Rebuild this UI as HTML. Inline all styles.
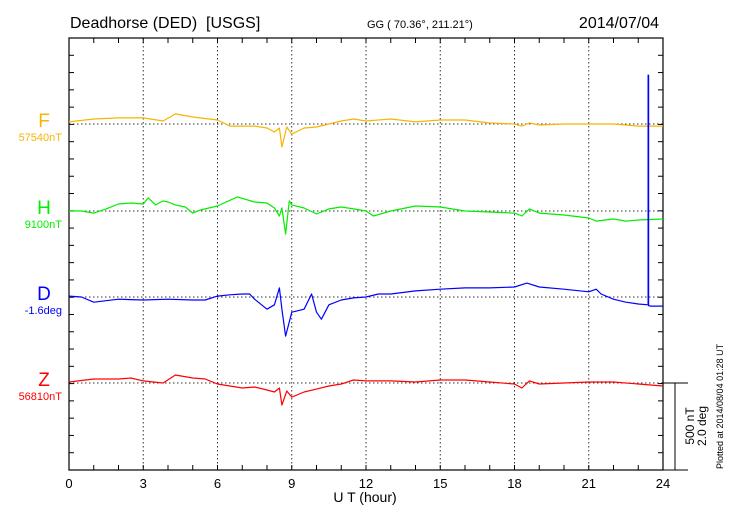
<!DOCTYPE html>
<html><head><meta charset="utf-8"><style>
html,body{margin:0;padding:0;background:#fff;}
svg{display:block;font-family:"Liberation Sans",sans-serif;}
</style></head><body>
<svg id="chart" width="730" height="520" viewBox="0 0 730 520" xmlns="http://www.w3.org/2000/svg">
<text x="70" y="28" font-size="16" style="white-space:pre" xml:space="preserve">Deadhorse (DED)  [USGS]</text>
<text x="367" y="28" font-size="11">GG ( 70.36°, 211.21°)</text>
<text x="659" y="28" font-size="16" text-anchor="end">2014/07/04</text>
<text x="365" y="502" font-size="14" text-anchor="middle">U T (hour)</text>
<text transform="translate(694,426) rotate(-90)" font-size="12" text-anchor="middle">500 nT</text>
<text transform="translate(706,426) rotate(-90)" font-size="12" text-anchor="middle">2.0 deg</text>
<text transform="translate(723,469) rotate(-90)" font-size="9">Plotted at 2014/08/04 01:28 UT</text>
<g id="g"></g>
</svg>
<script>
const xTicks=[0,3,6,9,12,15,18,21,24];
const seriesNames=['F','H','D','Z'];
const seriesColors=['#f8b400','#00ee00','#0000ff','#ff0000'];
const baseLabels=['57540nT','9100nT','-1.6deg','56810nT'];
const fT=[0,1,2,3,3.8,4.3,5,6,6.5,7.5,8,8.3,8.5,8.6,8.8,9,9.5,10,10.5,11,11.5,12,13,14,15,16,17,18,18.3,18.6,19,20,21,22,23,24];
const fV=[12,29,35,35,17,58,40,23,-12,-12,-23,-46,-23,-132,-17,-58,-23,-17,0,17,29,17,29,12,23,23,6,0,-12,6,-6,0,0,0,-12,-12];
const hT=[0,0.5,1,1.5,2,2.5,3,3.2,3.5,3.8,4,4.3,4.7,5,5.3,6,6.8,7.5,8,8.3,8.5,8.6,8.75,8.9,9,9.5,10,10.5,11,11.5,12,12.3,13,14,15,16,17,18,18.3,18.6,19,20,21,21.3,22,22.5,23,24];
const hV=[0,0,-12,12,40,46,40,75,35,58,52,35,23,-12,6,29,81,52,46,17,-29,17,-132,58,35,17,-17,12,23,12,0,-29,0,29,23,0,-6,-12,-29,12,-12,-23,-40,-58,-46,-58,-52,-46];
const dT=[0,0.5,1,2,3,4,5,5.5,6,6.5,7,7.3,7.5,8,8.3,8.5,8.6,8.75,9,9.5,9.8,10,10.2,10.5,11,11.5,12,12.5,13,14,15,16,17,18,18.5,19,20,21,21.3,21.5,22,22.5,23,23.4,23.4,23.42,23.42,23.5,24];
const dV=[0.02,0,-0.12,-0.05,-0.07,-0.05,-0.07,-0.07,0.02,0.05,0.07,0.07,-0.05,-0.28,-0.18,0.21,-0.28,-0.9,-0.35,-0.28,0.07,-0.35,-0.51,-0.18,-0.07,-0.02,0,0.07,0.07,0.14,0.18,0.21,0.21,0.23,0.32,0.23,0.18,0.12,0.18,0.07,-0.05,-0.12,-0.16,-0.18,5.1,5.1,-0.2,-0.21,-0.21];
const zT=[0,1,2,2.5,3,3.8,4.3,5,5.5,6,7,7.5,8,8.3,8.5,8.6,8.8,9,9.5,10,10.5,11,11.5,12,13,14,15,16,17,18,18.3,18.6,19,20,21,22,23,24];
const zV=[6,23,23,29,12,0,46,29,23,-6,-29,-23,-40,-52,-29,-127,-46,-81,-52,-35,-17,-6,17,12,12,6,17,17,6,-6,-29,12,-6,0,6,6,-6,-17];
const X0=69,X1=663,Y0=38,Y1=470,TICK=17.28;
const bases=[124,211,297,383];
const nTpx=87/500, degpx=87/2;
function xs(h){return X0+(X1-X0)*h/24;}
function ys(i,v){return bases[i]-v*(i===2?degpx:nTpx);}
const g=document.getElementById('g');const NS='http://www.w3.org/2000/svg';
function mk(t,a){const e=document.createElementNS(NS,t);for(const k in a)e.setAttribute(k,a[k]);g.appendChild(e);return e;}
xTicks.slice(1,-1).forEach(h=>{const l=mk('line',{x1:xs(h),x2:xs(h),y1:Y0,y2:Y1,stroke:'#333','stroke-dasharray':'1.5,2.5','stroke-width':1});

});
bases.forEach(b=>{const l=mk('line',{x1:X0,x2:X1,y1:b,y2:b,stroke:'#333','stroke-dasharray':'1.5,2.5','stroke-width':1});

});
for(let h=0;h<=24;h++){const x=xs(h);
const t1=mk('line',{x1:x,x2:x,y1:Y0,y2:Y0+5,stroke:'#000'});


const t2=mk('line',{x1:x,x2:x,y1:Y1,y2:Y1-5,stroke:'#000'});

}
for(let k=1;k<25;k++){const y=Y0+k*TICK;
const t1=mk('line',{x1:X0,x2:X0+5,y1:y,y2:y,stroke:'#000'});


const t2=mk('line',{x1:X1,x2:X1-5,y1:y,y2:y,stroke:'#000'});

}
xTicks.forEach(h=>{const t=mk('text',{x:xs(h),y:488,'font-size':13,'text-anchor':'middle'});t.textContent=h;

});
const fr=mk('rect',{x:X0,y:Y0,width:X1-X0,height:Y1-Y0,fill:'none',stroke:'#000','stroke-width':1.2});


const ext=mk('path',{d:`M${X1},383H688M${X1},${Y1}H688M675,383V${Y1}`,stroke:'#000',fill:'none'});


const Ts=[fT,hT,dT,zT],Vs=[fV,hV,dV,zV];
for(let i=0;i<4;i++){
let d='';Ts[i].forEach((t,j)=>{d+=(j?'L':'M')+xs(t).toFixed(1)+','+ys(i,Vs[i][j]).toFixed(1);});
const p=mk('path',{d:d,fill:'none',stroke:seriesColors[i],'stroke-width':1.2,'stroke-linejoin':'round'});


const n=mk('text',{x:44,y:bases[i]+3,'font-size':19,fill:seriesColors[i],'text-anchor':'middle'});n.textContent=seriesNames[i];


const b=mk('text',{x:62,y:bases[i]+17,'font-size':11,fill:seriesColors[i],'text-anchor':'end'});b.textContent=baseLabels[i];

}
</script>
</body></html>
